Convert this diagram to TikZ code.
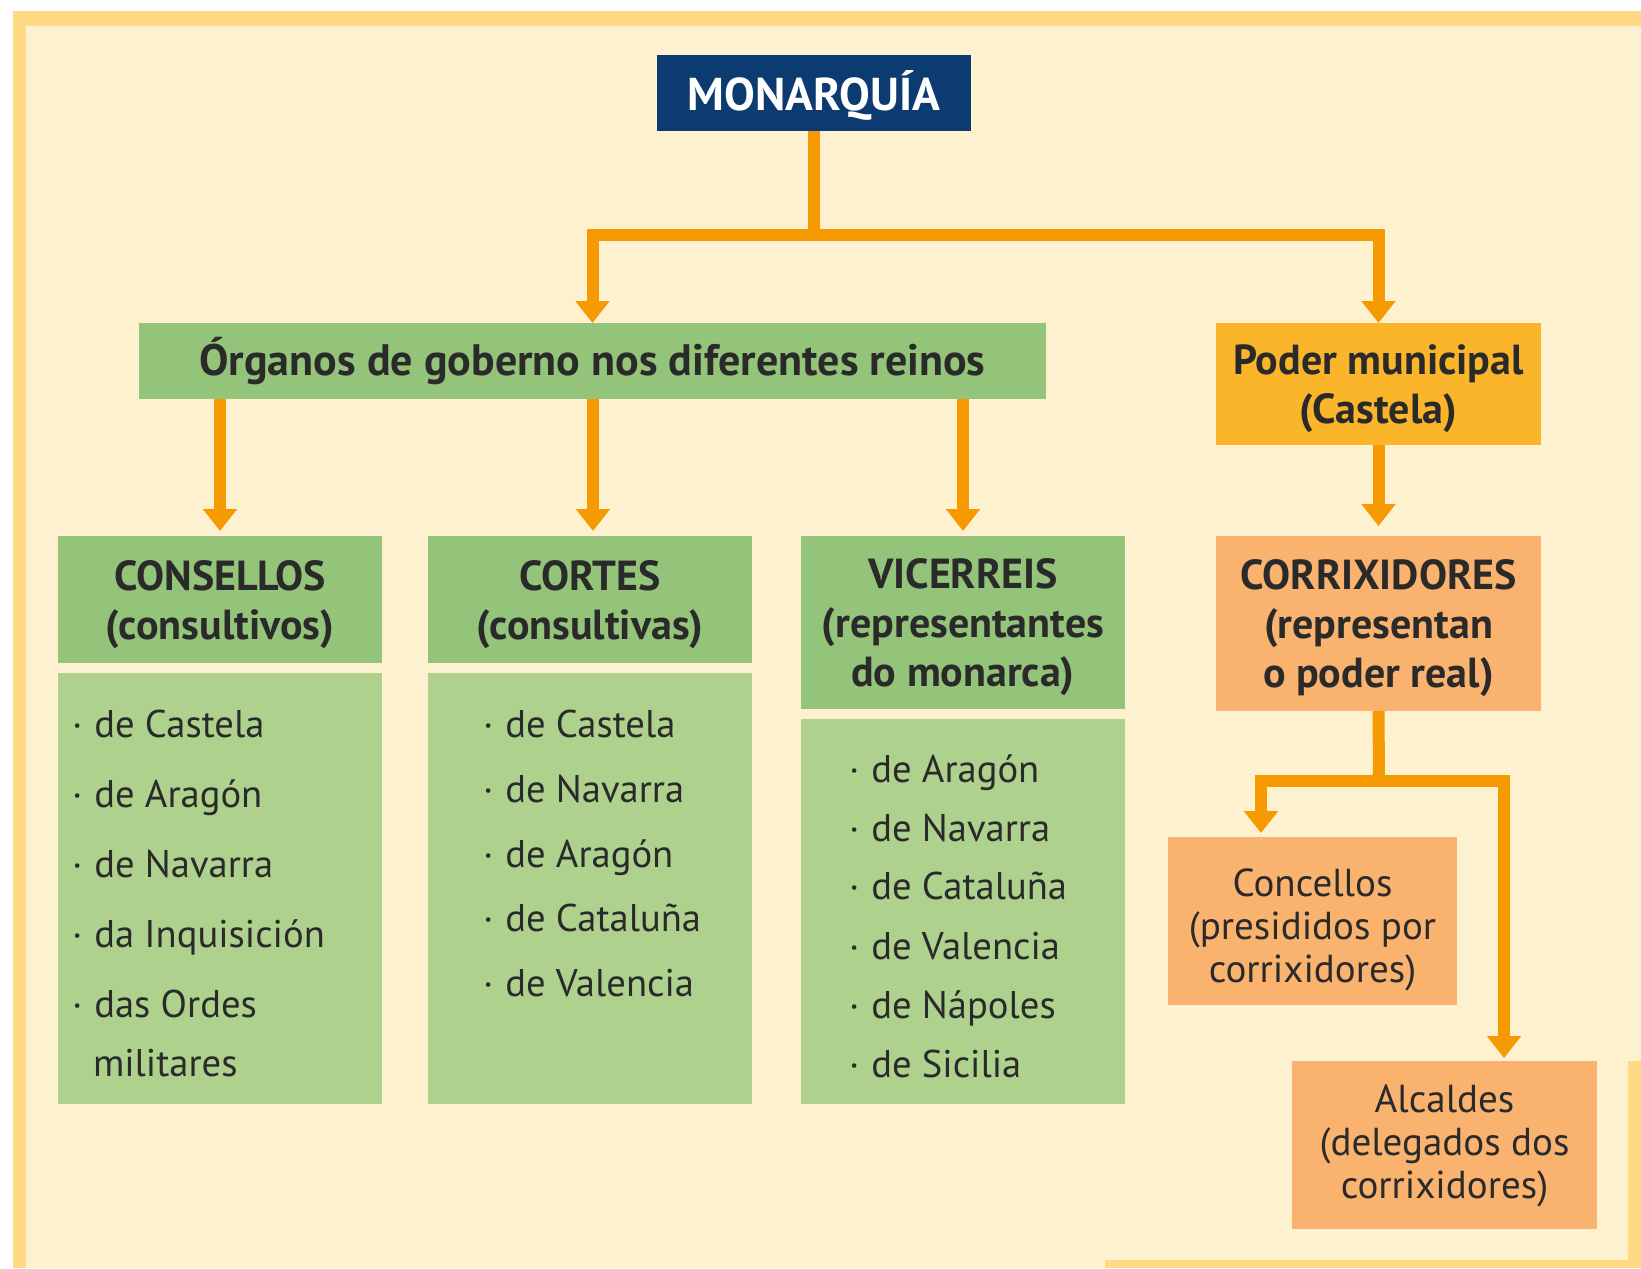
\documentclass[tikz,border=0pt]{standalone}
\usepackage{fontspec}
\setmainfont{PT Sans}
\usetikzlibrary{arrows.meta}
\definecolor{cream}{HTML}{FEF1CF}
\definecolor{bandyel}{HTML}{FFD985}
\definecolor{navy}{HTML}{0B3B70}
\definecolor{orline}{HTML}{F59A00}
\definecolor{greenhd}{HTML}{93C47A}
\definecolor{greenls}{HTML}{AED18D}
\definecolor{yelbox}{HTML}{FBB52A}
\definecolor{orbox}{HTML}{F9B36E}
\definecolor{txt}{HTML}{2A2A2A}
\tikzset{
  box/.style={inner sep=0pt, outer sep=0pt},
  lbl/.style={inner sep=0pt, outer sep=0pt, align=center, text=txt},
  hdfont/.style={lbl, font=\bfseries\fontsize{21}{24.5}\selectfont},
  smfont/.style={lbl, font=\fontsize{19.5}{21.5}\selectfont},
  itemtxt/.style={inner sep=0pt, outer sep=0pt, anchor=base west, text=txt, font=\fontsize{19.3}{24}\selectfont},
  conn/.style={draw=orline, line width=6pt, line join=miter},
  arr/.style={conn, -{Triangle[width=16.5pt,length=11pt]}},
}
\begin{document}
\begin{tikzpicture}[x=0.5pt,y=-0.5pt]
\useasboundingbox (0,0) rectangle (1641,1268);
\fill[white] (0,0) rectangle (1641,1268);
\fill[cream] (13,11) rectangle (1641,1268);
\fill[bandyel] (13,11) rectangle (1641,26);
\fill[bandyel] (13,11) rectangle (26,1268);
\fill[bandyel] (1105,1260) rectangle (1641,1268);
\fill[bandyel] (1628,1061) rectangle (1641,1268);

% boxes
\node[box, fill=navy, minimum width=157pt, minimum height=38pt] (mon) at (814,93) {};
\node[box, fill=greenhd, minimum width=453.5pt, minimum height=38pt] (org) at (592.5,361) {};
\node[box, fill=yelbox, minimum width=162.5pt, minimum height=61pt] (pod) at (1378.5,384) {};
\node[box, fill=greenhd, minimum width=162pt, minimum height=63.5pt] (con) at (220,599.5) {};
\node[box, fill=greenls, minimum width=162pt, minimum height=215.5pt] (conl) at (220,888.5) {};
\node[box, fill=greenhd, minimum width=162pt, minimum height=63.5pt] (cor) at (590,599.5) {};
\node[box, fill=greenls, minimum width=162pt, minimum height=215.5pt] (corl) at (590,888.5) {};
\node[box, fill=greenhd, minimum width=162pt, minimum height=86.5pt] (vic) at (963,622.5) {};
\node[box, fill=greenls, minimum width=162pt, minimum height=192.5pt] (vicl) at (963,911.5) {};
\node[box, fill=orbox, minimum width=162.5pt, minimum height=87.5pt] (crx) at (1378.5,623.5) {};
\node[box, fill=orbox, minimum width=144.5pt, minimum height=84pt] (cnc) at (1312.5,921) {};
\node[box, fill=orbox, minimum width=152.5pt, minimum height=84pt] (alc) at (1444.5,1145) {};

% box texts
\node[lbl, text=white, font=\bfseries\fontsize{23}{26}\selectfont] (mont) at (814,95) {MONARQUÍA};
\node[lbl, font=\bfseries\fontsize{22}{26}\selectfont] (orgt) at (592.5,361) {Órganos de goberno nos diferentes reinos};
\node[hdfont] (podt) at (1378.5,389) {Poder municipal\\(Castela)};
\node[hdfont] (cont) at (220,604.5) {CONSELLOS\\(consultivos)};
\node[hdfont] (cort) at (590,604.5) {CORTES\\(consultivas)};
\node[hdfont] (vict) at (963,627.5) {VICERREIS\\(representantes\\do monarca)};
\node[hdfont] (crxt) at (1378.5,628.5) {CORRIXIDORES\\(representan\\o poder real)};
\node[smfont] (cnct) at (1312.5,929.5) {Concellos\\(presididos por\\corrixidores)};
\node[smfont] (alct) at (1444.5,1146) {Alcaldes\\(delegados dos\\corrixidores)};

% list items
\foreach \t/\y [count=\i] in {de Castela/723, de Aragón/793, de Navarra/863, da Inquisición/933, das Ordes/1003}
  \node[itemtxt] (ca\i) at (72,\y+14) {·\hspace{6pt}\t};
\node[itemtxt] (ca6) at (93,1076) {militares};
\foreach \t/\y [count=\i] in {de Castela/723, de Navarra/788, de Aragón/853, de Cataluña/917, de Valencia/982}
  \node[itemtxt] (cb\i) at (483,\y+14) {·\hspace{6pt}\t};
\foreach \t/\y [count=\i] in {de Aragón/768, de Navarra/827, de Cataluña/885, de Valencia/945, de Nápoles/1004, de Sicilia/1063}
  \node[itemtxt] (cc\i) at (849,\y+14) {·\hspace{6pt}\t};

% connectors
\coordinate (j1) at (814,235);
\draw[conn] (mon.south) -- (j1);
\draw[arr] (j1) -| (org.north);
\draw[arr] (j1) -| (pod.north);
\draw[arr] (org.south -| con.north) -- ([yshift=2.5pt]con.north);
\draw[arr] (org.south -| 593,0) -- ([yshift=2.5pt]cor.north -| 593,0);
\draw[arr] (org.south -| vic.north) -- ([yshift=2.5pt]vic.north);
\draw[arr] (pod.south) -- ([yshift=5pt]crx.north);
\coordinate (j2) at (1379,781);
\coordinate (t1) at (1261,833);
\coordinate (t2) at (1504,1058);
\draw[conn] (crx.south) -- (j2);
\draw[arr] (j2) -| (t1);
\draw[arr] (j2) -| (t2);
\end{tikzpicture}
\end{document}
